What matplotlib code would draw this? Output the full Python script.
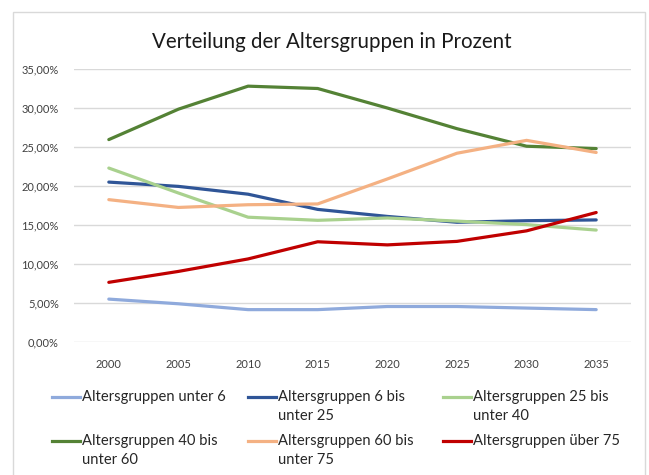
import matplotlib
matplotlib.use("Agg")
import matplotlib.pyplot as plt
from matplotlib.lines import Line2D
from matplotlib.patches import Rectangle
from matplotlib.ticker import FuncFormatter

plt.rcParams['font.family'] = ['Lato', 'DejaVu Sans']

# Daten (Anteile in Prozent)
jahre = [2000, 2005, 2010, 2015, 2020, 2025, 2030, 2035]
unter_6 = [5.5, 4.9, 4.15, 4.15, 4.55, 4.55, 4.35, 4.15]
von_6_bis_25 = [20.5, 19.95, 18.95, 17.0, 16.1, 15.35, 15.55, 15.65]
von_25_bis_40 = [22.3, 19.1, 16.0, 15.6, 15.9, 15.5, 15.05, 14.35]
von_40_bis_60 = [25.95, 29.85, 32.8, 32.5, 30.0, 27.35, 25.1, 24.8]
von_60_bis_75 = [18.25, 17.25, 17.6, 17.7, 20.9, 24.2, 25.85, 24.3]
ueber_75 = [7.65, 9.05, 10.65, 12.85, 12.45, 12.9, 14.25, 16.6]

reihen = [unter_6, von_6_bis_25, von_25_bis_40, von_40_bis_60, von_60_bis_75, ueber_75]
namen = ['Altersgruppen unter 6', 'Altersgruppen 6 bis\nunter 25', 'Altersgruppen 25 bis\nunter 40',
         'Altersgruppen 40 bis\nunter 60', 'Altersgruppen 60 bis\nunter 75', 'Altersgruppen über 75']
farben = ['#8FAADC', '#2F5597', '#A9D18E', '#548235', '#F4B183', '#C00000']

W, H = 649, 475
fig = plt.figure(figsize=(W / 100, H / 100), dpi=100)

# Rahmen des Diagrammbereichs
fig.add_artist(Rectangle((13 / W, -0.01), 632 / W, 1 - 12 / H + 0.01, transform=fig.transFigure,
                         fill=False, edgecolor='#D9D9D9', linewidth=1))

ax = fig.add_axes([74 / W, 1 - 342 / H, 557 / W, 273 / H])
x = list(range(len(jahre)))
for werte, farbe in zip(reihen, farben):
    ax.plot(x, werte, color=farbe, linewidth=2.3, solid_capstyle='round', zorder=3)

ax.set_xlim(-0.5, len(jahre) - 0.5)
ax.set_ylim(0, 35)
ax.set_yticks(range(0, 36, 5))
ax.yaxis.set_major_formatter(FuncFormatter(lambda v, p: f'{v:.2f}%'.replace('.', ',')))
ax.set_xticks(x)
ax.set_xticklabels([str(j) for j in jahre])
ax.grid(axis='y', color='#D9D9D9', linewidth=1)
ax.set_axisbelow(True)
for s in ax.spines.values():
    s.set_visible(False)
ax.tick_params(length=0, labelsize=8, labelcolor='#404040')
ax.tick_params(axis='y', pad=11)
ax.tick_params(axis='x', pad=12)

fig.text(332 / W, 1 - 42 / H, 'Verteilung der Altersgruppen in Prozent', ha='center', va='center',
         fontsize=14.8, color='#1a1a1a')

# Legende (drei Spalten, zwei Zeilen)
spalten_x = [52, 248, 443]
zeilen_y = [397, 441]
for i, (name, farbe) in enumerate(zip(namen, farben)):
    x0 = spalten_x[i % 3]
    y0 = zeilen_y[i // 3]
    fig.add_artist(Line2D([x0 / W, (x0 + 28) / W], [1 - y0 / H, 1 - y0 / H], transform=fig.transFigure,
                          color=farbe, linewidth=2.3))
    for k, zeile in enumerate(name.split('\n')):
        fig.text((x0 + 30) / W, 1 - (y0 + 19.5 * k) / H, zeile, ha='left', va='center',
                 fontsize=10.6, color='#262626')

fig.savefig('out.png', dpi=100)
